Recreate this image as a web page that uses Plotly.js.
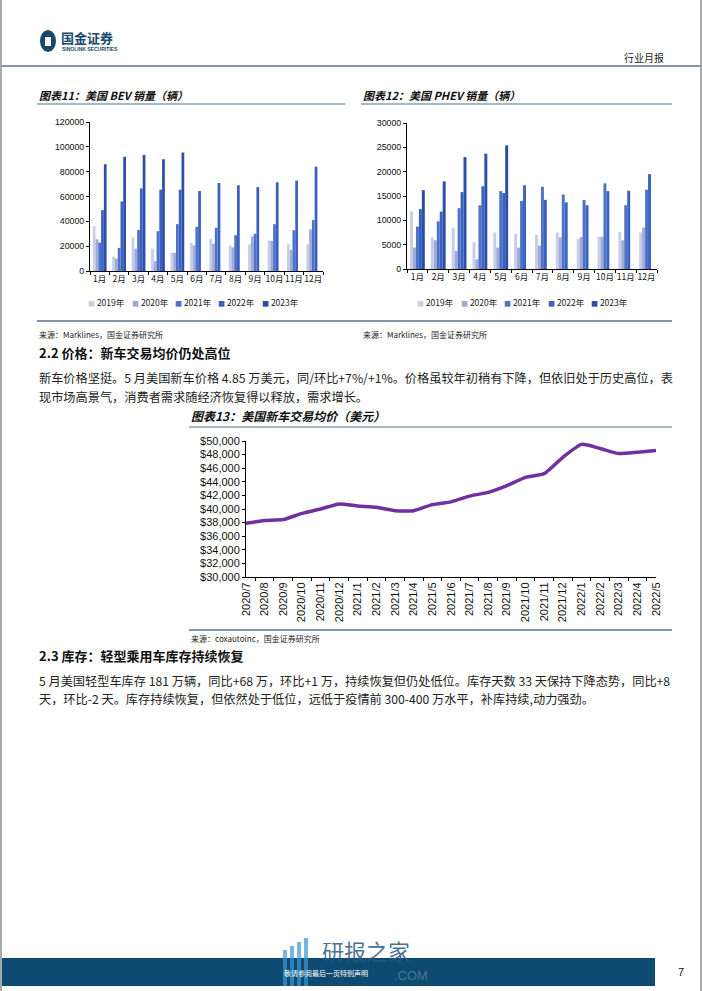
<!DOCTYPE html>
<html><head><meta charset="utf-8">
<script src="https://cdn.plot.ly/plotly-3.0.1.min.js"></script>
<style>html,body{margin:0;padding:0;background:#fff}#g{width:702px;height:991px}</style>
</head><body><div id="g"></div>
<script>
const months = ['1月','2月','3月','4月','5月','6月','7月','8月','9月','10月','11月','12月'];
const years = ['2019年','2020年','2021年','2022年','2023年'];
const barColors = ['#c9cde6','#9eaad8','#4d72c9','#3b61c0','#2c4ea8'];
const bev2019 = [36000,11600,27000,18000,15000,22600,25600,20500,21500,24500,21500,21500];
const bev2020 = [25600,10000,18000,8000,14500,20700,22000,19000,28000,24200,17000,33400];
const bev2021 = [22900,18600,33000,32000,37700,35600,34800,28800,30000,37700,32900,41000];
const bev2022 = [49000,56000,66500,65500,65500,64400,70900,69000,67600,71400,72800,84000];
const bev2023 = [86000,92000,93500,90000,95400,null,null,null,null,null,null,null];
const phev2019 = [11800,6500,8400,5500,7500,7200,7000,7500,6200,6600,7600,7500];
const phev2020 = [4400,5900,3700,2000,4400,4400,4800,6500,6600,6600,5900,8500];
const phev2021 = [8700,9800,12500,13100,16000,14000,16900,15300,14200,17600,13100,16300];
const phev2022 = [12300,11800,15800,17000,15600,17200,14200,13700,13100,16000,16100,19500];
const phev2023 = [16200,18000,23000,23700,25400,null,null,null,null,null,null,null];
const priceDates = ['2020/7','2020/8','2020/9','2020/10','2020/11','2020/12','2021/1','2021/2','2021/3','2021/4','2021/5','2021/6','2021/7','2021/8','2021/9','2021/10','2021/11','2021/12','2022/1','2022/2','2022/3','2022/4','2022/5'];
const prices = [37900,38300,38450,39350,40000,40750,40450,40250,39750,39750,40650,41050,41900,42450,43450,44650,45200,47600,49500,48900,48150,48350,48600];

const W = 702, H = 991;
const px = x => x / W;
const py = y => 1 - y / H;
const CJK = '"Noto Sans CJK SC", "Liberation Sans", sans-serif';
const NUM = '"Liberation Sans", Arial, sans-serif';

const bevSeries = [bev2019, bev2020, bev2021, bev2022, bev2023];
const phevSeries = [phev2019, phev2020, phev2021, phev2022, phev2023];
const traces = [];
bevSeries.forEach((s, i) => traces.push({type:'bar', x: months, y: s, name: years[i], xaxis:'x', yaxis:'y', marker:{color: barColors[i]}, showlegend:false, hoverinfo:'none'}));
phevSeries.forEach((s, i) => traces.push({type:'bar', x: months, y: s, name: years[i], xaxis:'x2', yaxis:'y2', marker:{color: barColors[i]}, showlegend:false, hoverinfo:'none'}));
traces.push({type:'scatter', mode:'lines', x: priceDates, y: prices, xaxis:'x3', yaxis:'y3', line:{color:'#7030a0', width:3.5, shape:'spline', smoothing:0.5}, showlegend:false, hoverinfo:'none'});

function catAxis(domain, fontSize, extra) {
  return Object.assign({domain: domain, type:'category', tickangle:0, showline:true, linecolor:'#000', linewidth:1, ticks:'outside', tickson:'boundaries', ticklen:3, tickcolor:'#000', showgrid:false, zeroline:false, tickfont:{family: CJK, size: fontSize, color:'#111'}, fixedrange:true}, extra||{});
}
function valAxis(domain, range, dtick, fontSize, extra) {
  return Object.assign({domain: domain, range: range, dtick: dtick, showline:true, linecolor:'#000', linewidth:1, ticks:'outside', ticklen:3, tickcolor:'#000', showgrid:false, zeroline:false, tickfont:{family: NUM, size: fontSize, color:'#111'}, fixedrange:true}, extra||{});
}

const ann = [];
function txt(x, y, text, size, opts) {
  ann.push(Object.assign({xref:'paper', yref:'paper', x: px(x), y: py(y), text: text, showarrow:false, xanchor:'left', yanchor:'middle', font:{family: CJK, size: size, color:'#111'}}, opts||{}));
}
// header
txt(59, 37, '<b>国金证券</b>', 13, {font:{family: CJK, size:13, color:'#17496f'}});
txt(60, 49, '<b>SINOLINK SECURITIES</b>', 5, {font:{family: NUM, size:5, color:'#17496f'}});
txt(666, 57, '行业月报', 10, {xanchor:'right', font:{family: CJK, size:10, color:'#222'}});
// chart titles
txt(37, 95, '<b><i>图表11：美国 BEV 销量（辆）</i></b>', 11);
txt(361, 95, '<b><i>图表12：美国 PHEV 销量（辆）</i></b>', 11);
txt(189, 416, '<b><i>图表13：美国新车交易均价（美元）</i></b>', 12);
// legends
years.forEach((yr, i) => {
  const t = '<span style="color:' + barColors[i] + ';font-size:7px">■</span> ' + yr;
  txt(86 + i * 43.5, 302, t, 8.5, {font:{family: CJK, size:8.5, color:'#222'}});
  txt(415 + i * 43.5, 302, t, 8.5, {font:{family: CJK, size:8.5, color:'#222'}});
});
// sources
txt(37, 334, '来源：Marklines，国金证券研究所', 8, {font:{family: CJK, size:8, color:'#222'}});
txt(361, 334, '来源：Marklines，国金证券研究所', 8, {font:{family: CJK, size:8, color:'#222'}});
txt(189, 638, '来源：coxautoinc，国金证券研究所', 8, {font:{family: CJK, size:8, color:'#222'}});
// section 2.2
txt(37, 352, '<b>2.2 价格：新车交易均价仍处高位</b>', 13);
txt(37, 378, '新车价格坚挺。5 月美国新车价格 4.85 万美元，同/环比+7%/+1%。价格虽较年初稍有下降，但依旧处于历史高位，表', 12.2, {font:{family: CJK, size:12.2, color:'#222'}});
txt(37, 397, '现市场高景气，消费者需求随经济恢复得以释放，需求增长。', 12.2, {font:{family: CJK, size:12.2, color:'#222'}});
// section 2.3
txt(37, 655, '<b>2.3 库存：轻型乘用车库存持续恢复</b>', 13);
txt(37, 681, '5 月美国轻型车库存 181 万辆，同比+68 万，环比+1 万，持续恢复但仍处低位。库存天数 33 天保持下降态势，同比+8', 12.2, {font:{family: CJK, size:12.2, color:'#222'}});
txt(37, 699, '天，环比-2 天。库存持续恢复，但依然处于低位，远低于疫情前 300-400 万水平，补库持续,动力强劲。', 12.2, {font:{family: CJK, size:12.2, color:'#222'}});
// footer
txt(320, 950, '研报之家', 22, {font:{family: CJK, size:22, color:'rgba(40,90,130,0.85)'}});
txt(282, 973, '敬请参阅最后一页特别声明', 7, {font:{family: CJK, size:7, color:'#fff'}});
txt(392, 975, '.COM', 13, {font:{family: NUM, size:13, color:'rgba(255,255,255,0.25)'}});
txt(681, 972, '7', 11, {xanchor:'center', font:{family: NUM, size:11, color:'#111'}});

const shapes = [];
function line(x0, y0, x1, y1, color, width) {
  shapes.push({type:'line', xref:'paper', yref:'paper', x0: px(x0), y0: py(y0), x1: px(x1), y1: py(y1), line:{color: color, width: width}});
}
function rect(x0, y0, x1, y1, color) {
  shapes.push({type:'rect', xref:'paper', yref:'paper', x0: px(x0), y0: py(y0), x1: px(x1), y1: py(y1), fillcolor: color, line:{width:0}});
}
// page frame
line(1, 0, 1, 991, '#8c8c8c', 1.5);
line(701, 0, 701, 991, '#8c8c8c', 1.5);
// header
shapes.push({type:'circle', xref:'paper', yref:'paper', x0: px(40), y0: py(52), x1: px(56), y1: py(30), fillcolor:'#17496f', line:{width:0}});
rect(45, 37, 51, 46, '#ffffff');
line(1, 66, 701, 66, '#8497a8', 2);
// chart title underlines
line(37, 104, 345, 104, '#4f6e8c', 1);
line(361, 104, 672, 104, '#4f6e8c', 1);
line(37, 321, 672, 321, '#7f95a8', 2);
line(189, 427, 672, 427, '#4f6e8c', 1);
line(189, 630, 672, 630, '#7f95a8', 2);
// footer bar
rect(2, 958, 655, 986, '#0e4a72');
[0,1,2,3].forEach(i => rect(283 + i * 7, 950 - i * 4, 287 + i * 7, 986, 'rgba(60,150,210,0.7)'));

const layout = {
  width: W, height: H, margin:{l:0, r:0, t:0, b:0}, paper_bgcolor:'#fff', plot_bgcolor:'rgba(0,0,0,0)',
  barmode:'group', bargap:0.29, bargroupgap:0, showlegend:false,
  xaxis: catAxis([px(90), px(323)], 8.5),
  yaxis: valAxis([py(271), py(122)], [0, 120000], 20000, 8.8, {tickformat:'d'}),
  xaxis2: catAxis([px(407), px(657)], 8.5, {anchor:'y2'}),
  yaxis2: valAxis([py(269), py(123)], [0, 30000], 5000, 8.8, {anchor:'x2', tickformat:'d'}),
  xaxis3: catAxis([px(246), px(656)], 11, {anchor:'y3', tickangle:-90, tickfont:{family: NUM, size: 11, color:'#111'}}),
  yaxis3: valAxis([py(577), py(441)], [30000, 50000], 2000, 11, {anchor:'x3', tickprefix:'$', tickformat:',d'}),
  annotations: ann, shapes: shapes
};
Plotly.newPlot('g', traces, layout, {staticPlot:true, displayModeBar:false});
</script></body></html>
